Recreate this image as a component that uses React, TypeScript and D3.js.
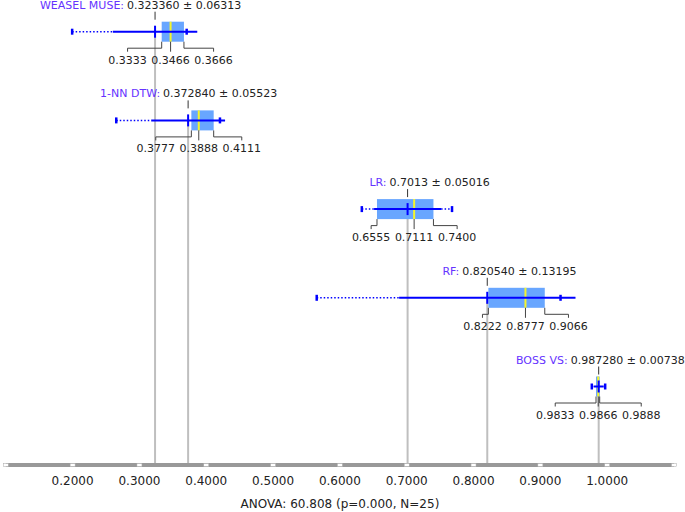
import * as d3 from 'd3'

const names = ['WEASEL MUSE', '1-NN DTW', 'LR', 'RF', 'BOSS VS']
const meanLabels = ['0.323360', '0.372840', '0.7013', '0.820540', '0.987280']
const stdLabels = ['0.06313', '0.05523', '0.05016', '0.13195', '0.00738']
const means = [0.32336, 0.37284, 0.7013, 0.82054, 0.98728]
const stds = [0.06313, 0.05523, 0.05016, 0.13195, 0.00738]
const q1s = [0.3333, 0.3777, 0.6555, 0.8222, 0.9833]
const medians = [0.3466, 0.3888, 0.7111, 0.8777, 0.9866]
const q3s = [0.3666, 0.4111, 0.74, 0.9066, 0.9888]
const mins = [0.1993, 0.2653, 0.6328, 0.5653, 0.977]
const maxs = [0.3707, 0.4205, 0.7678, 0.9302, 0.997]
const axisTicks = [0.1, 0.2, 0.3, 0.4, 0.5, 0.6, 0.7, 0.8, 0.9, 1.0, 1.1]
const tickLabels = [0.2, 0.3, 0.4, 0.5, 0.6, 0.7, 0.8, 0.9, 1.0]
const axisTitle = 'ANOVA: 60.808 (p=0.000, N=25)'

// where the value part of each title starts, relative to the mean
const titleDx = [-28, -25, -18, -25, -28]

const width = 685
const height = 512
const axisY = 465
const blue = '#0000ff'
const font = '"DejaVu Sans", sans-serif'

export default function App() {
  const x = d3.scaleLinear().domain([0.1, 1.1]).range([5.8, 674])
  const y = d3.scalePoint<string>().domain(names).range([31.7, 386.5])
  const fmt = d3.format('.4f')
  const spread = 43

  return (
    <svg width={width} height={height} style={{ position: 'absolute', left: 0, top: 0 }} fontFamily={font}>
      <rect width={width} height={height} fill="#fff" />
      {names.map((n, i) => (
        <line key={'g' + n} x1={x(means[i])} x2={x(means[i])} y1={y(n)!} y2={axisY}
          stroke="#bfbfbf" strokeWidth={2} />
      ))}
      {names.map((n, i) => {
        const cy = y(n)!
        const xm = x(means[i])
        const lo = x(means[i] - stds[i])
        const hi = x(means[i] + stds[i])
        const bb = cy + 10
        const by = cy + 16.5
        const xMed = x(medians[i])
        const lx = [xMed - spread, xMed, xMed + spread]
        const vals = [q1s[i], medians[i], q3s[i]]
        const ts = xm + titleDx[i]
        return (
          <g key={n}>
            <text x={ts - 3} y={cy - 23} fontSize={11} fill="#6633ff" textAnchor="end">{n + ':'}</text>
            <text x={ts} y={cy - 23} fontSize={11} fill="#222">{`${meanLabels[i]} ± ${stdLabels[i]}`}</text>
            <line x1={xm} x2={xm} y1={cy - 20} y2={cy - 12} stroke="#333" strokeWidth={1} />
            <line x1={x(mins[i])} x2={lo} y1={cy} y2={cy} stroke={blue} strokeWidth={1.5} strokeDasharray="1.5,2" />
            <line x1={hi} x2={Math.max(hi, x(maxs[i]))} y1={cy} y2={cy} stroke={blue} strokeWidth={1.5} strokeDasharray="1.5,2" />
            <rect x={x(q1s[i])} y={cy - 10} width={x(q3s[i]) - x(q1s[i])} height={20} fill="#68a6ff" />
            <line x1={xMed} x2={xMed} y1={cy - 10} y2={cy + 10} stroke="#f5f52a" strokeWidth={2} />
            <line x1={lo} x2={hi} y1={cy} y2={cy} stroke={blue} strokeWidth={2} />
            <line x1={xm} x2={xm} y1={cy - 6} y2={cy + 6} stroke={blue} strokeWidth={2} />
            <line x1={x(mins[i])} x2={x(mins[i])} y1={cy - 3} y2={cy + 3} stroke={blue} strokeWidth={2.5} />
            <line x1={x(maxs[i])} x2={x(maxs[i])} y1={cy - 3} y2={cy + 3} stroke={blue} strokeWidth={2.5} />
            <path d={`M${x(q1s[i])},${bb}V${by}H${lx[0]}V${by + 3.5}`} fill="none" stroke="#444" strokeWidth={1} />
            <path d={`M${xMed},${bb}V${by + 3.5}`} fill="none" stroke="#444" strokeWidth={1} />
            <path d={`M${x(q3s[i])},${bb}V${by}H${lx[2]}V${by + 3.5}`} fill="none" stroke="#444" strokeWidth={1} />
            {vals.map((v, j) => (
              <text key={j} x={lx[j]} y={cy + 32} fontSize={11} fill="#222" textAnchor="middle">{fmt(v)}</text>
            ))}
          </g>
        )
      })}
      <line x1={x(0.1)} x2={x(1.1)} y1={axisY} y2={axisY} stroke="#999" strokeWidth={4} />
      {axisTicks.map(t => (
        <rect key={t} x={x(t) - 2.5} y={axisY - 1.5} width={5} height={3} fill="#fff" stroke="#aaa" strokeWidth={0.5} />
      ))}
      {tickLabels.map(t => (
        <text key={t} x={x(t)} y={485} fontSize={12} fill="#222" textAnchor="middle">{fmt(t)}</text>
      ))}
      <text x={x(0.6)} y={508} fontSize={12} fill="#222" textAnchor="middle">{axisTitle}</text>
    </svg>
  )
}
